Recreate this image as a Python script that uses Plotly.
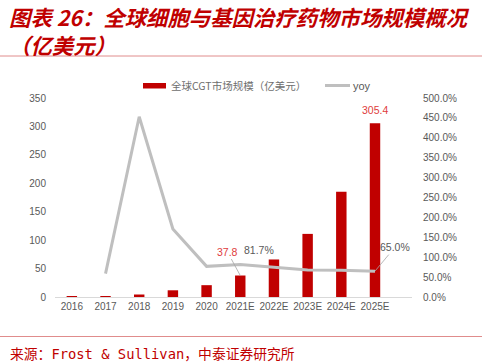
import plotly.graph_objects as go

# ---- data ----
years = ["2016", "2017", "2018", "2019", "2020", "2021E", "2022E", "2023E", "2024E", "2025E"]
market = [0.4, 0.8, 4.4, 11.8, 20.8, 37.8, 66.0, 111.0, 185.0, 305.4]
yoy = [None, 0.586, 4.53, 1.71, 0.77, 0.817, 0.75, 0.68, 0.67, 0.65]
left_ticks = [0, 50, 100, 150, 200, 250, 300, 350]
right_ticks = [0, 0.5, 1.0, 1.5, 2.0, 2.5, 3.0, 3.5, 4.0, 4.5, 5.0]
right_ticktext = ["0.0%", "50.0%", "100.0%", "150.0%", "200.0%", "250.0%",
                  "300.0%", "350.0%", "400.0%", "450.0%", "500.0%"]
bar_name = "全球CGT市场规模（亿美元）"
line_name = "yoy"
title1 = "图表 26：全球细胞与基因治疗药物市场规模概况"
title2 = "（亿美元）"
source = "来源：Frost & Sullivan，中泰证券研究所"

W, H = 482, 364
L, R, T, B = 55, 70, 98, 67
PW, PH = W - L - R, H - T - B


def px(xp):
    return (xp - L) / PW


def py(yp):
    return (H - B - yp) / PH


RED = "#C00000"
GRAY = "#BFBFBF"
TXT = "#595959"
SANS = "Liberation Sans, Arial, Noto Sans CJK SC"
CJK = "Noto Sans CJK SC"

fig = go.Figure()
fig.add_trace(go.Bar(x=years, y=market, name=bar_name, marker=dict(color=RED, line=dict(width=0)),
                     yaxis="y", showlegend=False))
fig.add_trace(go.Scatter(x=years, y=yoy, name=line_name, mode="lines",
                         line=dict(color=GRAY, width=3), yaxis="y2", showlegend=False,
                         connectgaps=False))

ann = []
# data labels
ann.append(dict(x=years[5], y=market[5], xref="x", yref="y", text="37.8",
                showarrow=True, arrowhead=0, arrowwidth=0.8, arrowcolor="#A6A6A6",
                ax=-13, ay=-24, font=dict(family=SANS, size=10.5, color="#E03C3C")))
ann.append(dict(x=years[5], y=yoy[5], xref="x", yref="y2", text="81.7%",
                showarrow=False, xshift=19, yshift=14,
                font=dict(family=SANS, size=10.5, color=TXT)))
ann.append(dict(x=years[9], y=yoy[9], xref="x", yref="y2", text="65.0%",
                showarrow=True, arrowhead=0, arrowwidth=0.8, arrowcolor="#A6A6A6",
                ax=20, ay=-24, font=dict(family=SANS, size=10.5, color=TXT)))
ann.append(dict(x=years[9], y=market[9], xref="x", yref="y", text="305.4",
                showarrow=False, yshift=13,
                font=dict(family=SANS, size=10.5, color="#E03C3C")))

# title (two lines)
ann.append(dict(x=px(8), y=py(0), xref="paper", yref="paper", xanchor="left", yanchor="top",
                align="left",
                text="<b><i>" + title1 + "<br>" + title2 + "</i></b>", showarrow=False, borderpad=0,
                font=dict(family=CJK, size=21.4, color=RED)))
# source
ann.append(dict(x=px(8), y=py(354), xref="paper", yref="paper", xanchor="left", yanchor="middle",
                text=source, showarrow=False,
                font=dict(family="DejaVu Sans Mono, Noto Sans CJK SC", size=13.8, color=RED)))
# legend texts
ann.append(dict(x=px(169), y=py(85.5), xref="paper", yref="paper", xanchor="left", yanchor="middle",
                text=bar_name, showarrow=False, font=dict(family=CJK, size=10.5, color="#6E6E6E")))
ann.append(dict(x=px(351), y=py(85.5), xref="paper", yref="paper", xanchor="left", yanchor="middle",
                text=line_name, showarrow=False, font=dict(family=SANS, size=11, color=TXT)))

shapes = [
    dict(type="line", xref="paper", yref="paper", x0=px(0), x1=px(W), y0=py(56), y1=py(56),
         line=dict(color="#E08C8C", width=1)),
    dict(type="line", xref="paper", yref="paper", x0=px(0), x1=px(W), y0=py(336.5), y1=py(336.5),
         line=dict(color="#E08C8C", width=1)),
    dict(type="rect", xref="paper", yref="paper", x0=px(143), x1=px(166), y0=py(88.5), y1=py(83),
         fillcolor=RED, line=dict(width=0)),
    dict(type="line", xref="paper", yref="paper", x0=px(325), x1=px(350), y0=py(85.5), y1=py(85.5),
         line=dict(color=GRAY, width=3)),
]

fig.update_layout(
    width=W, height=H,
    margin=dict(l=L, r=R, t=T, b=B, pad=0),
    paper_bgcolor="white", plot_bgcolor="white",
    bargap=0.69,
    showlegend=False,
    annotations=ann,
    shapes=shapes,
    xaxis=dict(type="category", showline=True, linecolor="#D9D9D9", linewidth=1,
               ticks="", showgrid=False, zeroline=False,
               tickfont=dict(family=SANS, size=10, color=TXT)),
    yaxis=dict(range=[0, 350], tickvals=left_ticks, showgrid=False, zeroline=False,
               showline=False, ticks="", ticklabelstandoff=8,
               tickfont=dict(family=SANS, size=10, color=TXT)),
    yaxis2=dict(range=[0, 5], overlaying="y", side="right", tickvals=right_ticks,
                ticktext=right_ticktext, showgrid=False, zeroline=False, showline=False,
                ticks="", ticklabelstandoff=10,
                tickfont=dict(family=SANS, size=10, color=TXT)),
)

fig.write_html("out.html")
